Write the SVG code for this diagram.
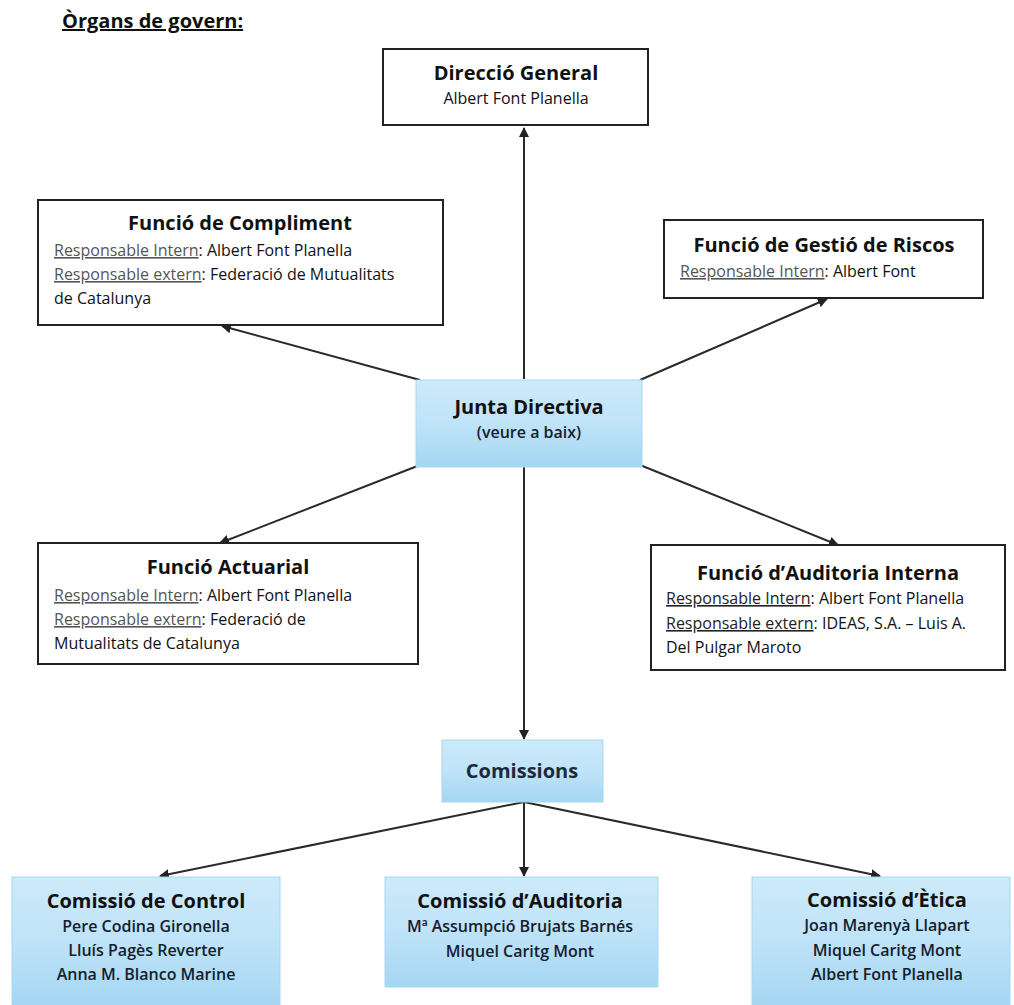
<svg xmlns="http://www.w3.org/2000/svg" width="1014" height="1005" viewBox="0 0 1014 1005">
<defs>
<linearGradient id="blue" x1="0" y1="0" x2="0" y2="1">
<stop offset="0" stop-color="#cdeafa"/>
<stop offset="0.5" stop-color="#bfe3f8"/>
<stop offset="1" stop-color="#a4d6f2"/>
</linearGradient>
<marker id="arr" markerWidth="10" markerHeight="10" refX="9" refY="5" orient="auto" markerUnits="userSpaceOnUse">
<path d="M0,0 L10,5 L0,10 Z" fill="#222"/>
</marker>
</defs>
<style>
.wb{fill:#fff;stroke:#222;stroke-width:2}
.bb{fill:url(#blue);stroke:#a9d6ef;stroke-width:1}
.t{font-family:"Open Sans",Lato,sans-serif;font-weight:bold;font-size:20px;fill:#111;text-anchor:middle}
.s{font-family:"Open Sans",Lato,sans-serif;font-size:16px;fill:#111}
.sc{font-family:"Open Sans",Lato,sans-serif;font-size:16px;fill:#14202e;text-anchor:middle;font-weight:600}
.u{fill:#555;text-decoration:underline}
.c{stroke:#2a2a2a;stroke-width:2;fill:none;marker-end:url(#arr)}
</style>
<rect width="1014" height="1005" fill="#fff"/>
<text x="62" y="28" style="font-family:'Open Sans',Lato,sans-serif;font-weight:bold;font-size:20px;fill:#111;text-decoration:underline">Òrgans de govern:</text>

<g id="connectors">
<line class="c" x1="524" y1="379" x2="524" y2="128"/>
<line class="c" x1="420" y1="380" x2="222" y2="326"/>
<line class="c" x1="640" y1="380" x2="827" y2="299"/>
<line class="c" x1="420" y1="465" x2="220" y2="543"/>
<line class="c" x1="640" y1="465" x2="838" y2="545"/>
<line class="c" x1="524" y1="467" x2="524" y2="739"/>
<line class="c" x1="524" y1="802" x2="160" y2="876"/>
<line class="c" x1="524" y1="802" x2="524" y2="876"/>
<line class="c" x1="524" y1="802" x2="880" y2="876"/>
</g>

<g id="direccio">
<rect class="wb" x="383" y="49" width="265" height="76"/>
<text class="t" x="516" y="80">Direcció General</text>
<text class="s" x="516" y="104" text-anchor="middle">Albert Font Planella</text>
</g>

<g id="compliment">
<rect class="wb" x="38" y="200" width="405" height="125"/>
<text class="t" x="240" y="230">Funció de Compliment</text>
<text class="s" x="54" y="256"><tspan class="u">Responsable Intern</tspan>: Albert Font Planella</text>
<text class="s" x="54" y="280"><tspan class="u">Responsable extern</tspan>: Federació de Mutualitats</text>
<text class="s" x="54" y="304">de Catalunya</text>
</g>

<g id="riscos">
<rect class="wb" x="664" y="220" width="319" height="78"/>
<text class="t" x="824" y="252">Funció de Gestió de Riscos</text>
<text class="s" x="680" y="277"><tspan class="u">Responsable Intern</tspan>: Albert Font</text>
</g>

<g id="junta">
<rect class="bb" x="416" y="380" width="226" height="87"/>
<text class="t" x="529" y="414">Junta Directiva</text>
<text class="sc" x="529" y="438">(veure a baix)</text>
</g>

<g id="actuarial">
<rect class="wb" x="38" y="543" width="380" height="121"/>
<text class="t" x="228" y="574">Funció Actuarial</text>
<text class="s" x="54" y="601"><tspan class="u">Responsable Intern</tspan>: Albert Font Planella</text>
<text class="s" x="54" y="625"><tspan class="u">Responsable extern</tspan>: Federació de</text>
<text class="s" x="54" y="649">Mutualitats de Catalunya</text>
</g>

<g id="auditoria-interna">
<rect class="wb" x="651" y="545" width="354" height="125"/>
<text class="t" x="828" y="580">Funció d’Auditoria Interna</text>
<text class="s" x="666" y="604"><tspan class="u" style="fill:#222">Responsable Intern</tspan>: Albert Font Planella</text>
<text class="s" x="666" y="629"><tspan class="u" style="fill:#222">Responsable extern</tspan>: IDEAS, S.A. – Luis A.</text>
<text class="s" x="666" y="653">Del Pulgar Maroto</text>
</g>

<g id="comissions">
<rect class="bb" x="442" y="740" width="161" height="62"/>
<text class="t" x="522" y="778" style="fill:#1c2b3a">Comissions</text>
</g>

<g id="control">
<rect class="bb" x="12" y="877" width="268" height="128"/>
<text class="t" x="146" y="908">Comissió de Control</text>
<text class="sc" x="146" y="932">Pere Codina Gironella</text>
<text class="sc" x="146" y="956">Lluís Pagès Reverter</text>
<text class="sc" x="146" y="980">Anna M. Blanco Marine</text>
</g>

<g id="auditoria">
<rect class="bb" x="385" y="877" width="273" height="110"/>
<text class="t" x="520" y="908">Comissió d’Auditoria</text>
<text class="sc" x="520" y="932">Mª Assumpció Brujats Barnés</text>
<text class="sc" x="520" y="957">Miquel Caritg Mont</text>
</g>

<g id="etica">
<rect class="bb" x="752" y="877" width="258" height="128"/>
<text class="t" x="887" y="907">Comissió d’Ètica</text>
<text class="sc" x="887" y="931">Joan Marenyà Llapart</text>
<text class="sc" x="887" y="956">Miquel Caritg Mont</text>
<text class="sc" x="887" y="980">Albert Font Planella</text>
</g>
</svg>
